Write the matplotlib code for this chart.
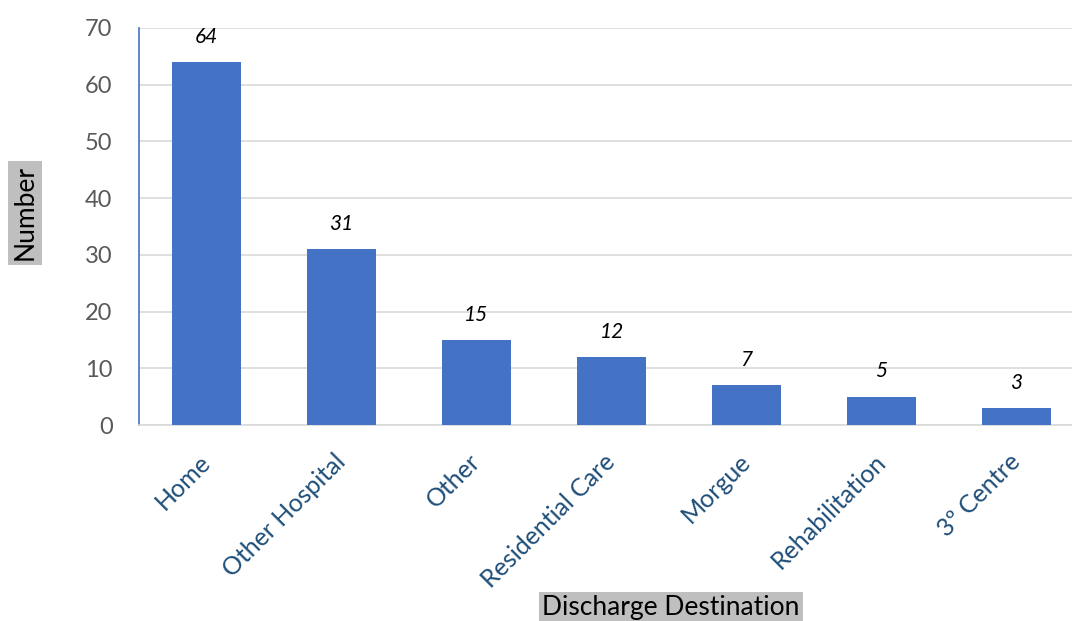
import numpy as np
import matplotlib.pyplot as plt
import matplotlib.transforms as mtransforms

categories = ["Home", "Other Hospital", "Other", "Residential Care",
              "Morgue", "Rehabilitation", "3º Centre"]
counts = [64, 31, 15, 12, 7, 5, 3]
y_ticks = [0, 10, 20, 30, 40, 50, 60, 70]

plt.rcParams['font.family'] = ['Lato', 'DejaVu Sans']

fig = plt.figure(figsize=(10.72, 6.21), dpi=100)
ax = fig.add_axes([139 / 1072, 196 / 621, 945 / 1072, 397 / 621])

x = np.arange(len(categories))
ax.bar(x, counts, width=0.51, color="#4472C4", zorder=3)

# value labels above each bar
for xi, v in zip(x, counts):
    ax.text(xi, v + 2.7, str(v), ha="center", va="bottom",
            fontsize=15, fontstyle="italic", color="black")

ax.set_xlim(-0.5, len(categories) - 0.5)
ax.set_ylim(0, 70)
ax.set_yticks(y_ticks)
ax.yaxis.grid(True, color="#D9D9D9", linewidth=1.2, zorder=0)
ax.set_axisbelow(True)

ax.set_xticks(x)
ax.set_xticklabels(categories, rotation=45, ha="right", va="top",
                   rotation_mode="anchor", fontsize=18, color="#1F4E79")
ax.tick_params(axis="y", labelsize=17, labelcolor="#595959", length=0, pad=19)
ax.tick_params(axis="x", length=0, pad=18)
# nudge the rotated labels a bit left, like the original
offset = mtransforms.ScaledTranslation(-8 / 100, 0, fig.dpi_scale_trans)
for lbl in ax.get_xticklabels():
    lbl.set_transform(lbl.get_transform() + offset)

for side in ["top", "right"]:
    ax.spines[side].set_visible(False)
ax.spines["left"].set_color("#4472C4")
ax.spines["left"].set_linewidth(1.2)
ax.spines["bottom"].set_color("#D9D9D9")
ax.spines["bottom"].set_linewidth(1.2)

fig.text(25 / 1072, 1 - 213 / 621, "Number", rotation=90, ha="center", va="center",
         fontsize=19, color="black",
         bbox=dict(facecolor="#BFBFBF", edgecolor="none", pad=3))
fig.text(671 / 1072, 1 - 607 / 621, "Discharge Destination", ha="center", va="center",
         fontsize=19, color="black",
         bbox=dict(facecolor="#BFBFBF", edgecolor="none", pad=2))

fig.savefig("out.png", dpi=100)
